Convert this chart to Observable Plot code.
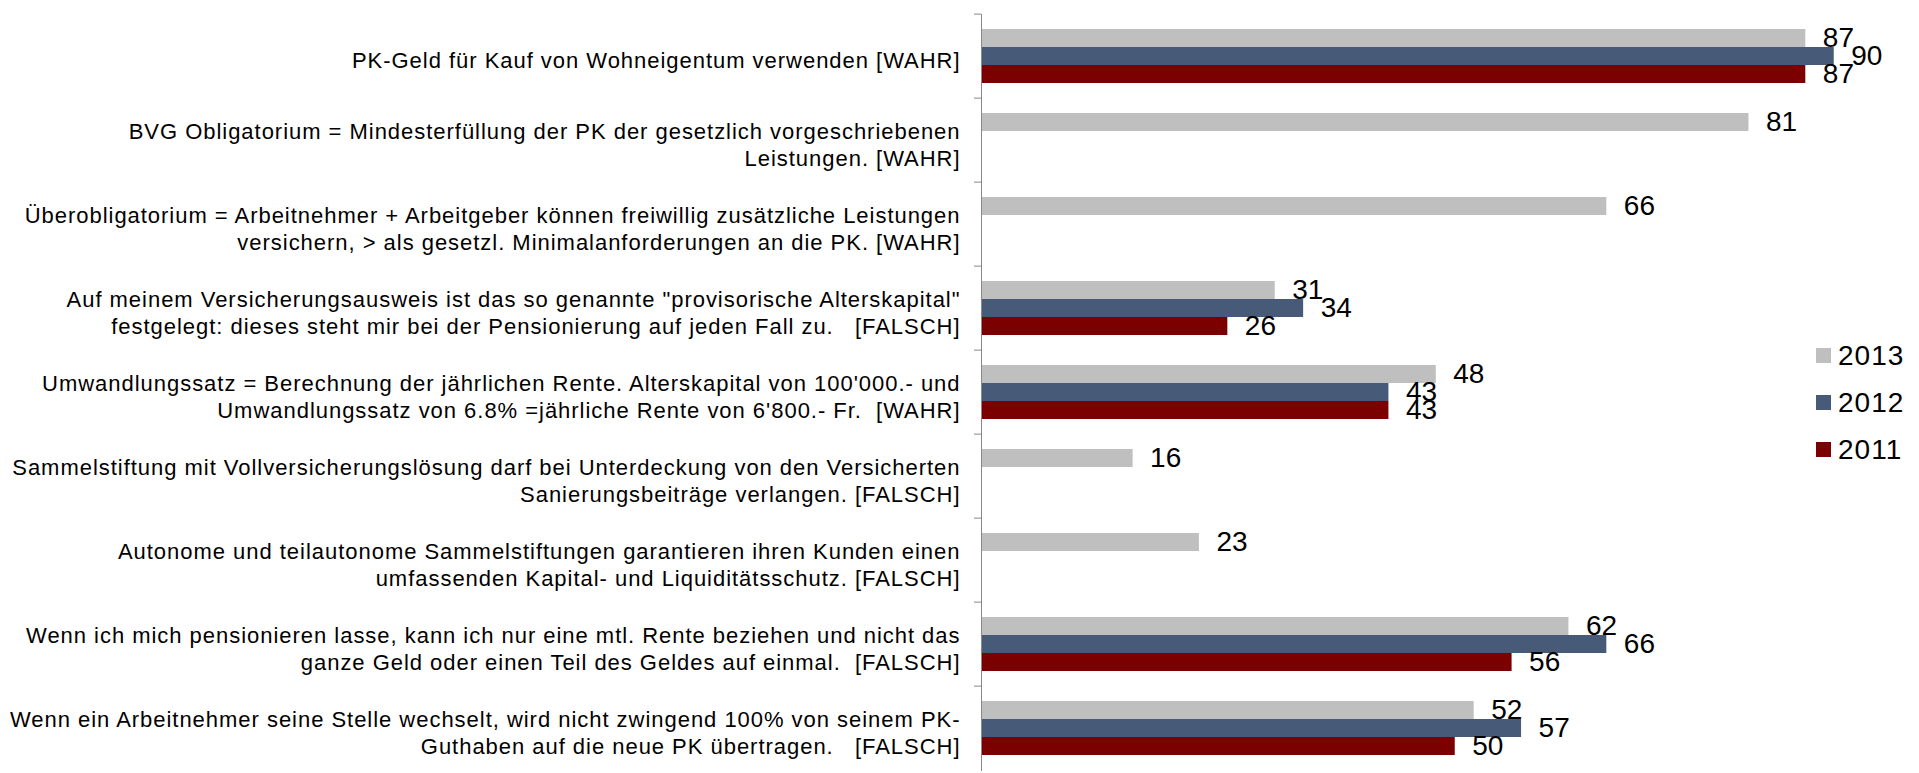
<!DOCTYPE html>
<html>
<head>
<meta charset="utf-8">
<script src="https://cdn.jsdelivr.net/npm/d3@7"></script>
<script src="https://cdn.jsdelivr.net/npm/@observablehq/plot@0.6"></script>
<style>
  html, body { margin: 0; padding: 0; background: #fff; overflow: hidden; }
  #wrap { position: relative; width: 1919px; height: 773px; font-family: "Liberation Sans", Arial, sans-serif; }
  #wrap svg text { white-space: pre; }
  #wrap svg g[font-size="22"] { letter-spacing: 0.97px; }
  .legend { position: absolute; left: 1816px; top: 332px; }
  .legend .row { display: flex; align-items: center; height: 47px; font-size: 28px; color: #000; letter-spacing: 1px; }
  .legend .sw { width: 15px; height: 15px; margin-right: 7px; }
</style>
</head>
<body>
<div id="wrap"></div>
<script>
const questions = [
  "PK-Geld für Kauf von Wohneigentum verwenden [WAHR]",
  "BVG Obligatorium = Mindesterfüllung der PK der gesetzlich vorgeschriebenen\nLeistungen. [WAHR]",
  "Überobligatorium = Arbeitnehmer + Arbeitgeber können freiwillig zusätzliche Leistungen\nversichern, > als gesetzl. Minimalanforderungen an die PK. [WAHR]",
  "Auf meinem Versicherungsausweis ist das so genannte \"provisorische Alterskapital\"\nfestgelegt: dieses steht mir bei der Pensionierung auf jeden Fall zu.   [FALSCH]",
  "Umwandlungssatz = Berechnung der jährlichen Rente. Alterskapital von 100'000.- und\nUmwandlungssatz von 6.8% =jährliche Rente von 6'800.- Fr.  [WAHR]",
  "Sammelstiftung mit Vollversicherungslösung darf bei Unterdeckung von den Versicherten\nSanierungsbeiträge verlangen. [FALSCH]",
  "Autonome und teilautonome Sammelstiftungen garantieren ihren Kunden einen\numfassenden Kapital- und Liquiditätsschutz. [FALSCH]",
  "Wenn ich mich pensionieren lasse, kann ich nur eine mtl. Rente beziehen und nicht das\nganze Geld oder einen Teil des Geldes auf einmal.  [FALSCH]",
  "Wenn ein Arbeitnehmer seine Stelle wechselt, wird nicht zwingend 100% von seinem PK-\nGuthaben auf die neue PK übertragen.   [FALSCH]"
];
const years = ["2013", "2012", "2011"];
const values2013 = [87, 81, 66, 31, 48, 16, 23, 62, 52];
const values2012 = [90, null, null, 34, 43, null, null, 66, 57];
const values2011 = [87, null, null, 26, 43, null, null, 56, 50];
const colors = ["#BFBFBF", "#475A77", "#7B0000"];

const series = {"2013": values2013, "2012": values2012, "2011": values2011};
const data = questions.flatMap((q, i) =>
  years.map(y => ({q, year: y, v: series[y][i]}))
).filter(d => d.v != null);

const W = 1919, H = 773, mT = 10, mB = 0, mL = 981, mR = 0;
const step = (H - mT - mB) / questions.length;

const chart = Plot.plot({
  width: W, height: H,
  marginLeft: mL, marginRight: mR, marginTop: mT, marginBottom: mB,
  style: {fontFamily: "'Liberation Sans', Arial, sans-serif", color: "#000", background: "#fff"},
  x: {domain: [0, 99], axis: null},
  y: {domain: years, paddingInner: 0, paddingOuter: 0.737, axis: null},
  fy: {domain: questions, padding: 0},
  color: {domain: years, range: colors},
  marks: [
    Plot.barX(data, {x: "v", y: "year", fy: "q", fill: "year"}),
    Plot.text(data, {x: "v", y: "year", fy: "q", text: d => String(d.v), textAnchor: "start", dx: 17, fontSize: 28, fill: "#000"}),
    Plot.text(questions, {fy: d => d, frameAnchor: "left", text: d => d, textAnchor: "end", dx: -21, dy: 3, fontSize: 22, lineHeight: 1.22, fill: "#000"}),
    Plot.frame({anchor: "left", stroke: "#888", strokeOpacity: 1}),
    Plot.axisFy({anchor: "left", label: null, tickSize: 7, tickFormat: () => "", dy: -step / 2, stroke: "#888", strokeOpacity: 1})
  ]
});

const wrap = document.getElementById("wrap");
wrap.appendChild(chart);

const legend = document.createElement("div");
legend.className = "legend";
years.forEach((y, i) => {
  const row = document.createElement("div");
  row.className = "row";
  const sw = document.createElement("div");
  sw.className = "sw";
  sw.style.background = colors[i];
  const t = document.createElement("span");
  t.textContent = y;
  row.appendChild(sw);
  row.appendChild(t);
  legend.appendChild(row);
});
wrap.appendChild(legend);
</script>
</body>
</html>
